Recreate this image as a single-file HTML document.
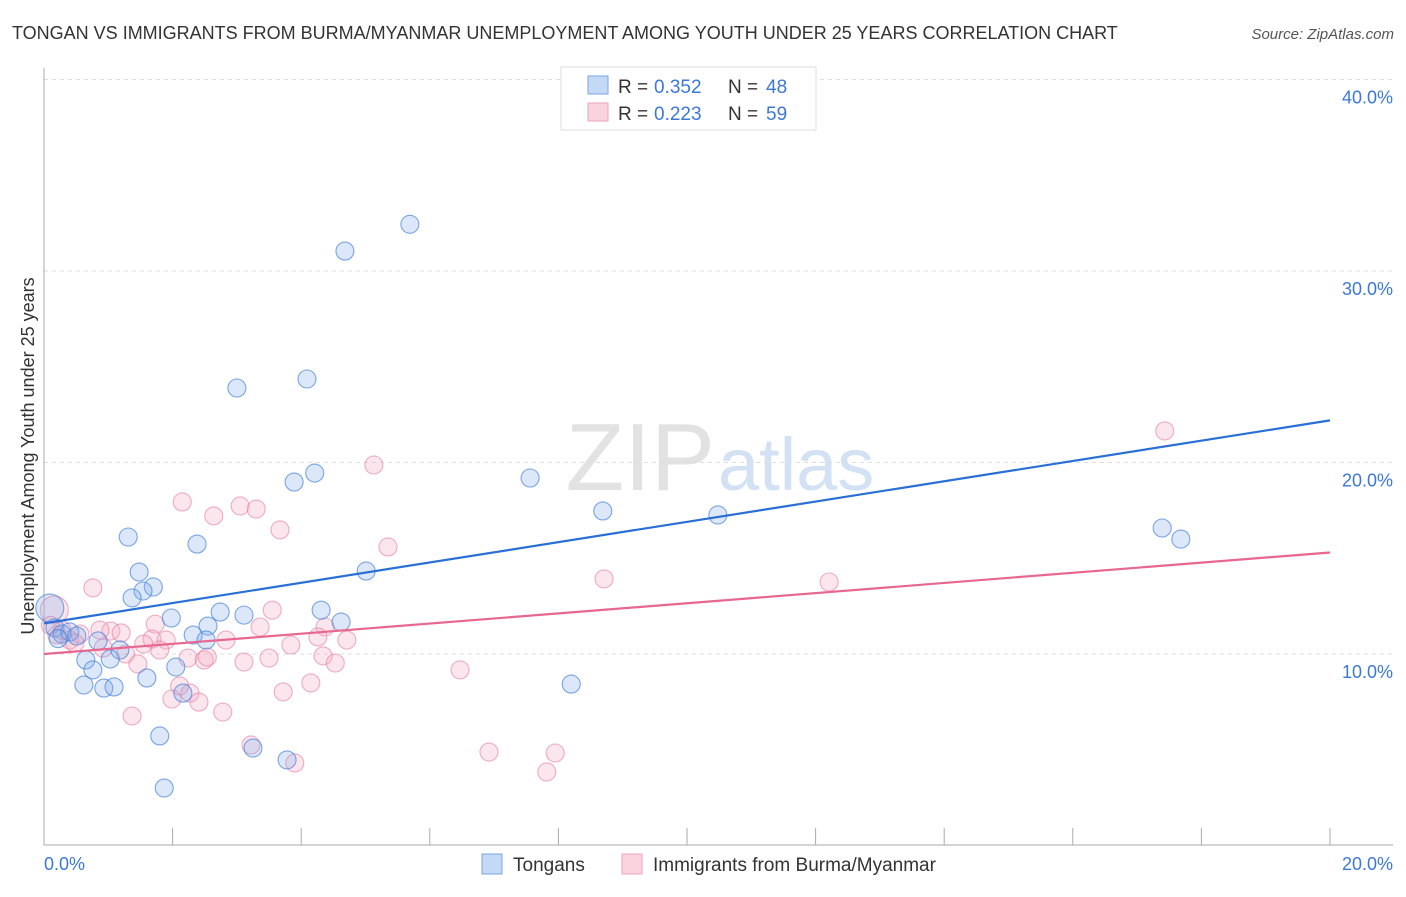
<!DOCTYPE html>
<html><head><meta charset="utf-8"><style>
body{margin:0;background:#fff;font-family:"Liberation Sans",sans-serif;}
svg text{font-family:"Liberation Sans",sans-serif;}
</style></head><body>
<svg id="chart" width="1406" height="892">
<text x="12" y="39" font-size="18" fill="#333">TONGAN VS IMMIGRANTS FROM BURMA/MYANMAR UNEMPLOYMENT AMONG YOUTH UNDER 25 YEARS CORRELATION CHART</text>
<text x="1394" y="39" font-size="15" fill="#555" font-style="italic" text-anchor="end">Source: ZipAtlas.com</text>
<text x="715" y="490" font-size="96" fill="#e2e2e2" text-anchor="end" font-family="Liberation Serif">ZIP</text>
<text x="718" y="490" font-size="74" fill="#d3e1f4">atlas</text>
<g id="grid"></g><g id="axes"></g><g id="pts"></g><g id="lines"></g>
<text transform="translate(34,456) rotate(-90)" font-size="18" fill="#333" text-anchor="middle">Unemployment Among Youth under 25 years</text>
<text x="44" y="870" font-size="18" fill="#3b78d8">0.0%</text>
<text x="1393" y="870" font-size="18" fill="#3b78d8" text-anchor="end">20.0%</text>
<g>
<rect x="561" y="67" width="255" height="63" fill="#fff" stroke="#ddd"/>
<rect x="588" y="76" width="20" height="18" fill="#c4d9f5" stroke="#7aa6e2"/>
<rect x="588" y="103" width="20" height="18" fill="#fad3df" stroke="#eda3bb"/>
<text x="618" y="93" font-size="19" fill="#333">R = </text><text x="654" y="93" font-size="19" fill="#3b78d8">0.352</text>
<text x="728" y="93" font-size="19" fill="#333">N = </text><text x="766" y="93" font-size="19" fill="#3b78d8">48</text>
<text x="618" y="120" font-size="19" fill="#333">R = </text><text x="654" y="120" font-size="19" fill="#3b78d8">0.223</text>
<text x="728" y="120" font-size="19" fill="#333">N = </text><text x="766" y="120" font-size="19" fill="#3b78d8">59</text>
</g>
<g>
<rect x="482" y="854" width="20" height="20" fill="#c4d9f5" stroke="#7aa6e2"/>
<text x="513" y="871" font-size="19" fill="#333">Tongans</text>
<rect x="622" y="854" width="20" height="20" fill="#fad3df" stroke="#eda3bb"/>
<text x="653" y="871" font-size="19" fill="#333">Immigrants from Burma/Myanmar</text>
</g>
</svg>
<script>
const yTicks=[10,20,30,40];
const yTickLabels=["10.0%","20.0%","30.0%","40.0%"];
const xTicks=[0,2,4,6,8,10,12,14,16,18,20];
const tonganX=[4.68,5.69,3.00,4.09,3.89,4.21,7.56,8.69,10.48,17.39,17.68,1.31,2.38,1.48,5.01,1.70,1.54,1.37,1.98,2.74,3.11,4.31,4.62,2.55,2.32,2.52,0.84,1.18,0.65,1.03,0.76,2.05,1.60,0.62,0.93,1.09,2.16,8.20,1.80,3.25,3.78,1.87,0.09,0.17,0.28,0.40,0.51,0.22];
const tonganY=[31.04,32.44,23.89,24.36,18.98,19.45,19.19,17.47,17.26,16.58,16.00,16.11,15.74,14.28,14.33,13.50,13.29,12.93,11.88,12.19,12.03,12.29,11.67,11.46,10.99,10.73,10.68,10.21,9.69,9.74,9.17,9.32,8.75,8.38,8.22,8.28,7.96,8.43,5.72,5.09,4.47,3.00,12.40,11.36,11.04,11.15,10.94,10.80];
const burmaX=[17.43,5.13,2.15,3.05,3.30,2.64,3.67,5.35,8.71,12.21,0.76,3.55,1.73,3.36,4.37,1.04,1.20,1.68,1.90,2.83,4.26,4.71,1.55,3.84,0.92,1.80,1.27,2.24,2.49,2.54,3.11,3.50,4.34,4.53,1.46,6.47,2.11,4.15,3.72,2.27,1.99,2.41,2.78,1.37,3.22,6.92,7.95,3.90,7.82,0.16,0.20,0.40,0.56,0.48,0.28,0.87,0.10];
const burmaY=[21.65,19.87,17.94,17.73,17.57,17.21,16.48,15.59,13.92,13.76,13.45,12.29,11.56,11.41,11.41,11.20,11.10,10.78,10.73,10.73,10.89,10.73,10.52,10.47,10.31,10.21,10.00,9.79,9.69,9.84,9.58,9.79,9.90,9.53,9.48,9.17,8.33,8.49,8.02,7.96,7.65,7.49,6.97,6.76,5.25,4.88,4.83,4.31,3.84,12.30,11.00,10.73,11.04,10.57,11.25,11.25,11.50];
const tonganTrend=[11.6,22.2];
const burmaTrend=[10.0,15.3];
const X0=44,X1=1330,Y0=845.5,PY=19.15;
const sx=v=>X0+(X1-X0)*v/20;
const sy=v=>Y0-v*PY;
const NS="http://www.w3.org/2000/svg";
function mk(tag,parent,attrs){const e=document.createElementNS(NS,tag);for(const k in attrs)e.setAttribute(k,attrs[k]);document.getElementById(parent).appendChild(e);return e;}
yTicks.forEach((t,i)=>{
 const l=mk('line','grid',{x1:44,x2:1393,y1:sy(t),y2:sy(t),stroke:'#ddd','stroke-dasharray':'4,4'});
 
 
 const tx=mk('text','grid',{x:1393,y:sy(t)+24,'font-size':18,fill:'#3b78d8','text-anchor':'end'});
 tx.textContent=yTickLabels[i];
 
 
});
const ya=mk('line','axes',{x1:44,x2:44,y1:68,y2:845,stroke:'#aaa'});


const xa=mk('line','axes',{x1:44,x2:1393,y1:845,y2:845,stroke:'#aaa'});


xTicks.forEach(t=>{
 const l=mk('line','axes',{x1:sx(t),x2:sx(t),y1:828,y2:845,stroke:'#aaa'});
 
 
});
function pts(xs,ys,fill,stroke,name){
 xs.forEach((x,i)=>{
  let r=9; if(x<0.2&&ys[i]>12)r=14;
  const c=mk('circle','pts',{cx:sx(x),cy:sy(ys[i]),r:r,fill:fill,stroke:stroke,'stroke-width':1.1});
  
  
 });
}
pts(burmaX,burmaY,'rgba(244,165,192,0.28)','rgba(230,130,165,0.65)','burma-point');
pts(tonganX,tonganY,'rgba(130,172,235,0.28)','rgba(70,130,220,0.7)','tongan-point');
const bl=mk('line','lines',{x1:sx(0),x2:sx(20),y1:sy(burmaTrend[0]),y2:sy(burmaTrend[1]),stroke:'#e8678f','stroke-width':2.2});


const tl=mk('line','lines',{x1:sx(0),x2:sx(20),y1:sy(tonganTrend[0]),y2:sy(tonganTrend[1]),stroke:'#2a6fd6','stroke-width':2.2});


</script>
</body></html>
